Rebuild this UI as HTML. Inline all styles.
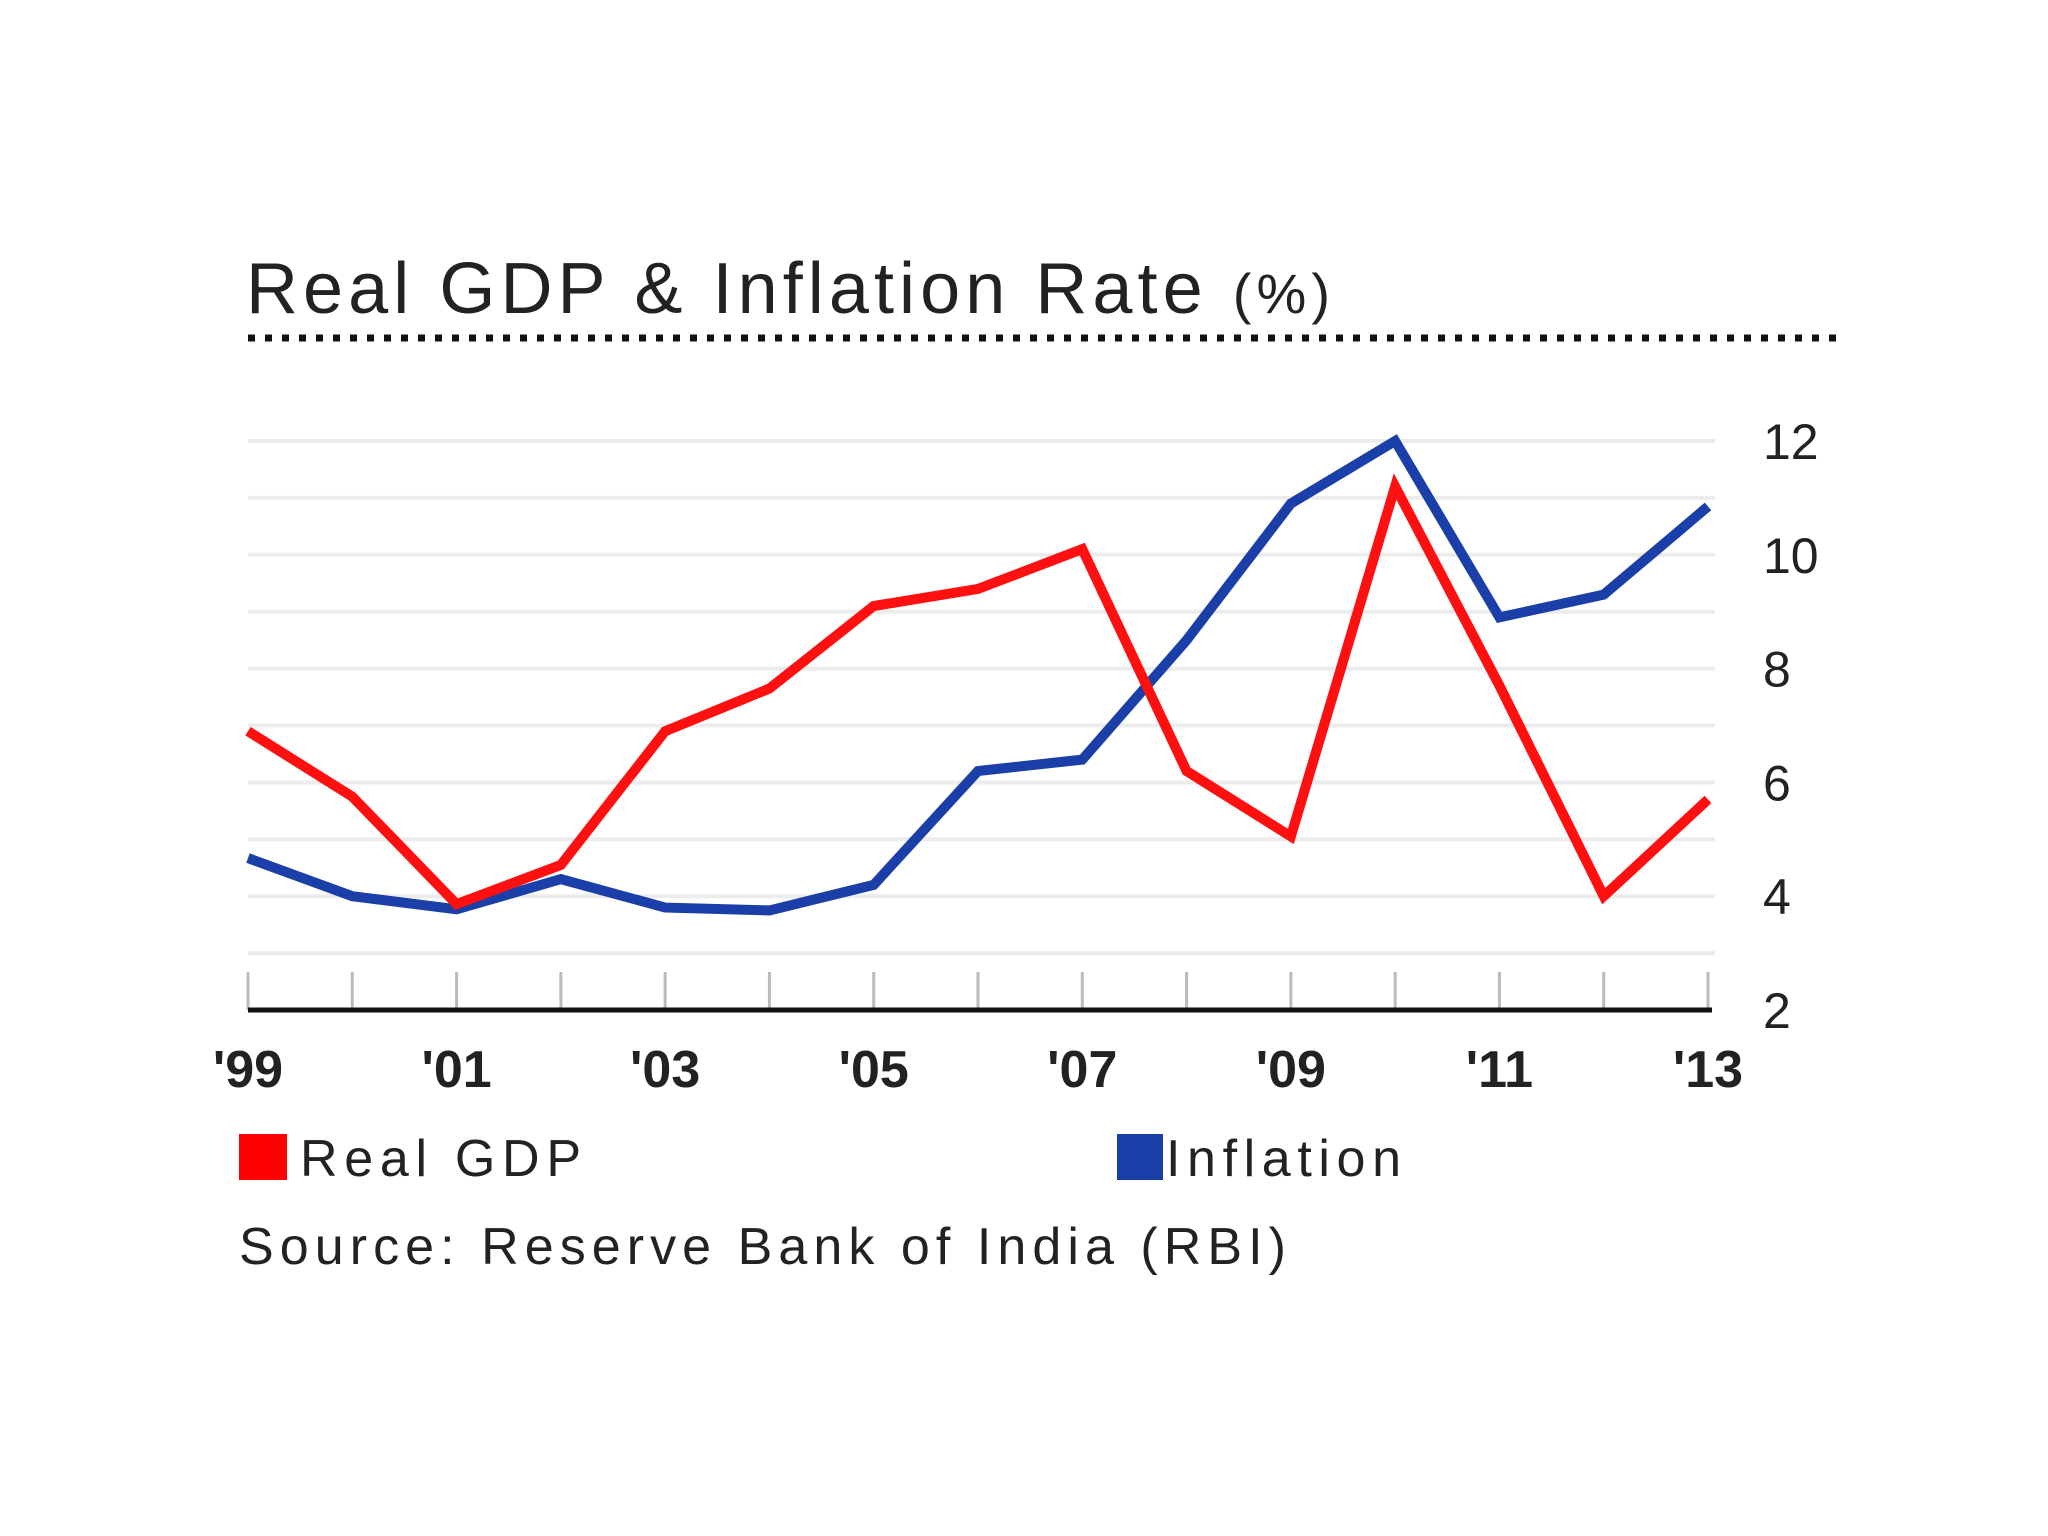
<!DOCTYPE html>
<html><head><meta charset="utf-8"><style>
html,body{margin:0;padding:0;background:#fff;}
svg{display:block;font-family:"Liberation Sans","DejaVu Sans",sans-serif;}
</style></head><body>
<svg id="chart" width="2048" height="1536" viewBox="0 0 2048 1536">
<text x="246" y="313" font-size="72" fill="#222" textLength="1084" lengthAdjust="spacing">Real GDP &amp; Inflation Rate <tspan font-size="56">(%)</tspan></text>
<line x1="248" y1="338" x2="1846" y2="338" stroke="#111" stroke-width="7" stroke-dasharray="7,10"/>
<g id="grid"></g><g id="axis"></g><g id="series"></g>
<rect x="239" y="1134" width="48" height="46" fill="#ff0000"/>
<text x="300" y="1176" font-size="52" fill="#222" textLength="281" lengthAdjust="spacing">Real GDP</text>
<rect x="1117" y="1134" width="46" height="46" fill="#1a3fa8"/>
<text x="1166" y="1176" font-size="52" fill="#222" textLength="235" lengthAdjust="spacing">Inflation</text>
<text x="239" y="1264" font-size="52" fill="#222" textLength="1047" lengthAdjust="spacing">Source: Reserve Bank of India (RBI)</text>
</svg>
<script>
const years = ["'99","'00","'01","'02","'03","'04","'05","'06","'07","'08","'09","'10","'11","'12","'13"];
const xLabels = ["'99","'01","'03","'05","'07","'09","'11","'13"];
const yTicks = [2,4,6,8,10,12];
const gdp = [6.9,5.75,3.86,4.55,6.9,7.65,9.1,9.4,10.1,6.2,5.05,11.2,7.7,4.0,5.7];
const inflation = [4.67,4.0,3.77,4.3,3.8,3.75,4.2,6.2,6.4,8.5,10.9,12.0,8.9,9.3,10.85];
const NS="http://www.w3.org/2000/svg";
const X0=248,X1=1708,Y2=1010,Y12=441;
const xs=i=>X0+(X1-X0)*i/(years.length-1);
const ys=v=>Y2+(v-2)*(Y12-Y2)/10;
function mk(t,p,a){const e=document.createElementNS(NS,t);for(const k in a)e.setAttribute(k,a[k]);p.appendChild(e);return e;}
const grid=document.getElementById('grid'),axis=document.getElementById('axis'),ser=document.getElementById('series');
for(let v=3;v<=12;v++){const l=mk('line',grid,{x1:X0,x2:1715,y1:ys(v),y2:ys(v),stroke:'#ececec','stroke-width':4});

}
yTicks.forEach(v=>{const t=mk('text',axis,{x:1763,y:ys(v)+18,'font-size':50,fill:'#222'});t.textContent=v;

});
years.forEach((y,i)=>{const l=mk('line',axis,{x1:xs(i),x2:xs(i),y1:Y2-38,y2:Y2,stroke:'#bbb','stroke-width':3});


if(xLabels.includes(y)){const t=mk('text',axis,{x:xs(i),y:1087,'font-size':52,'text-anchor':'middle',fill:'#222','font-weight':'bold'});t.textContent=y;

}});
const b=mk('line',axis,{x1:X0,x2:1712,y1:Y2,y2:Y2,stroke:'#111','stroke-width':5});


function line(d,c,n){const p=mk('polyline',ser,{points:d.map((v,i)=>xs(i)+','+ys(v)).join(' '),fill:'none',stroke:c,'stroke-width':10,'stroke-linejoin':'miter'});

}
line(inflation,'#1a3fa8','inflation-line');
line(gdp,'#ff1010','real-gdp-line');
</script>
</body></html>
